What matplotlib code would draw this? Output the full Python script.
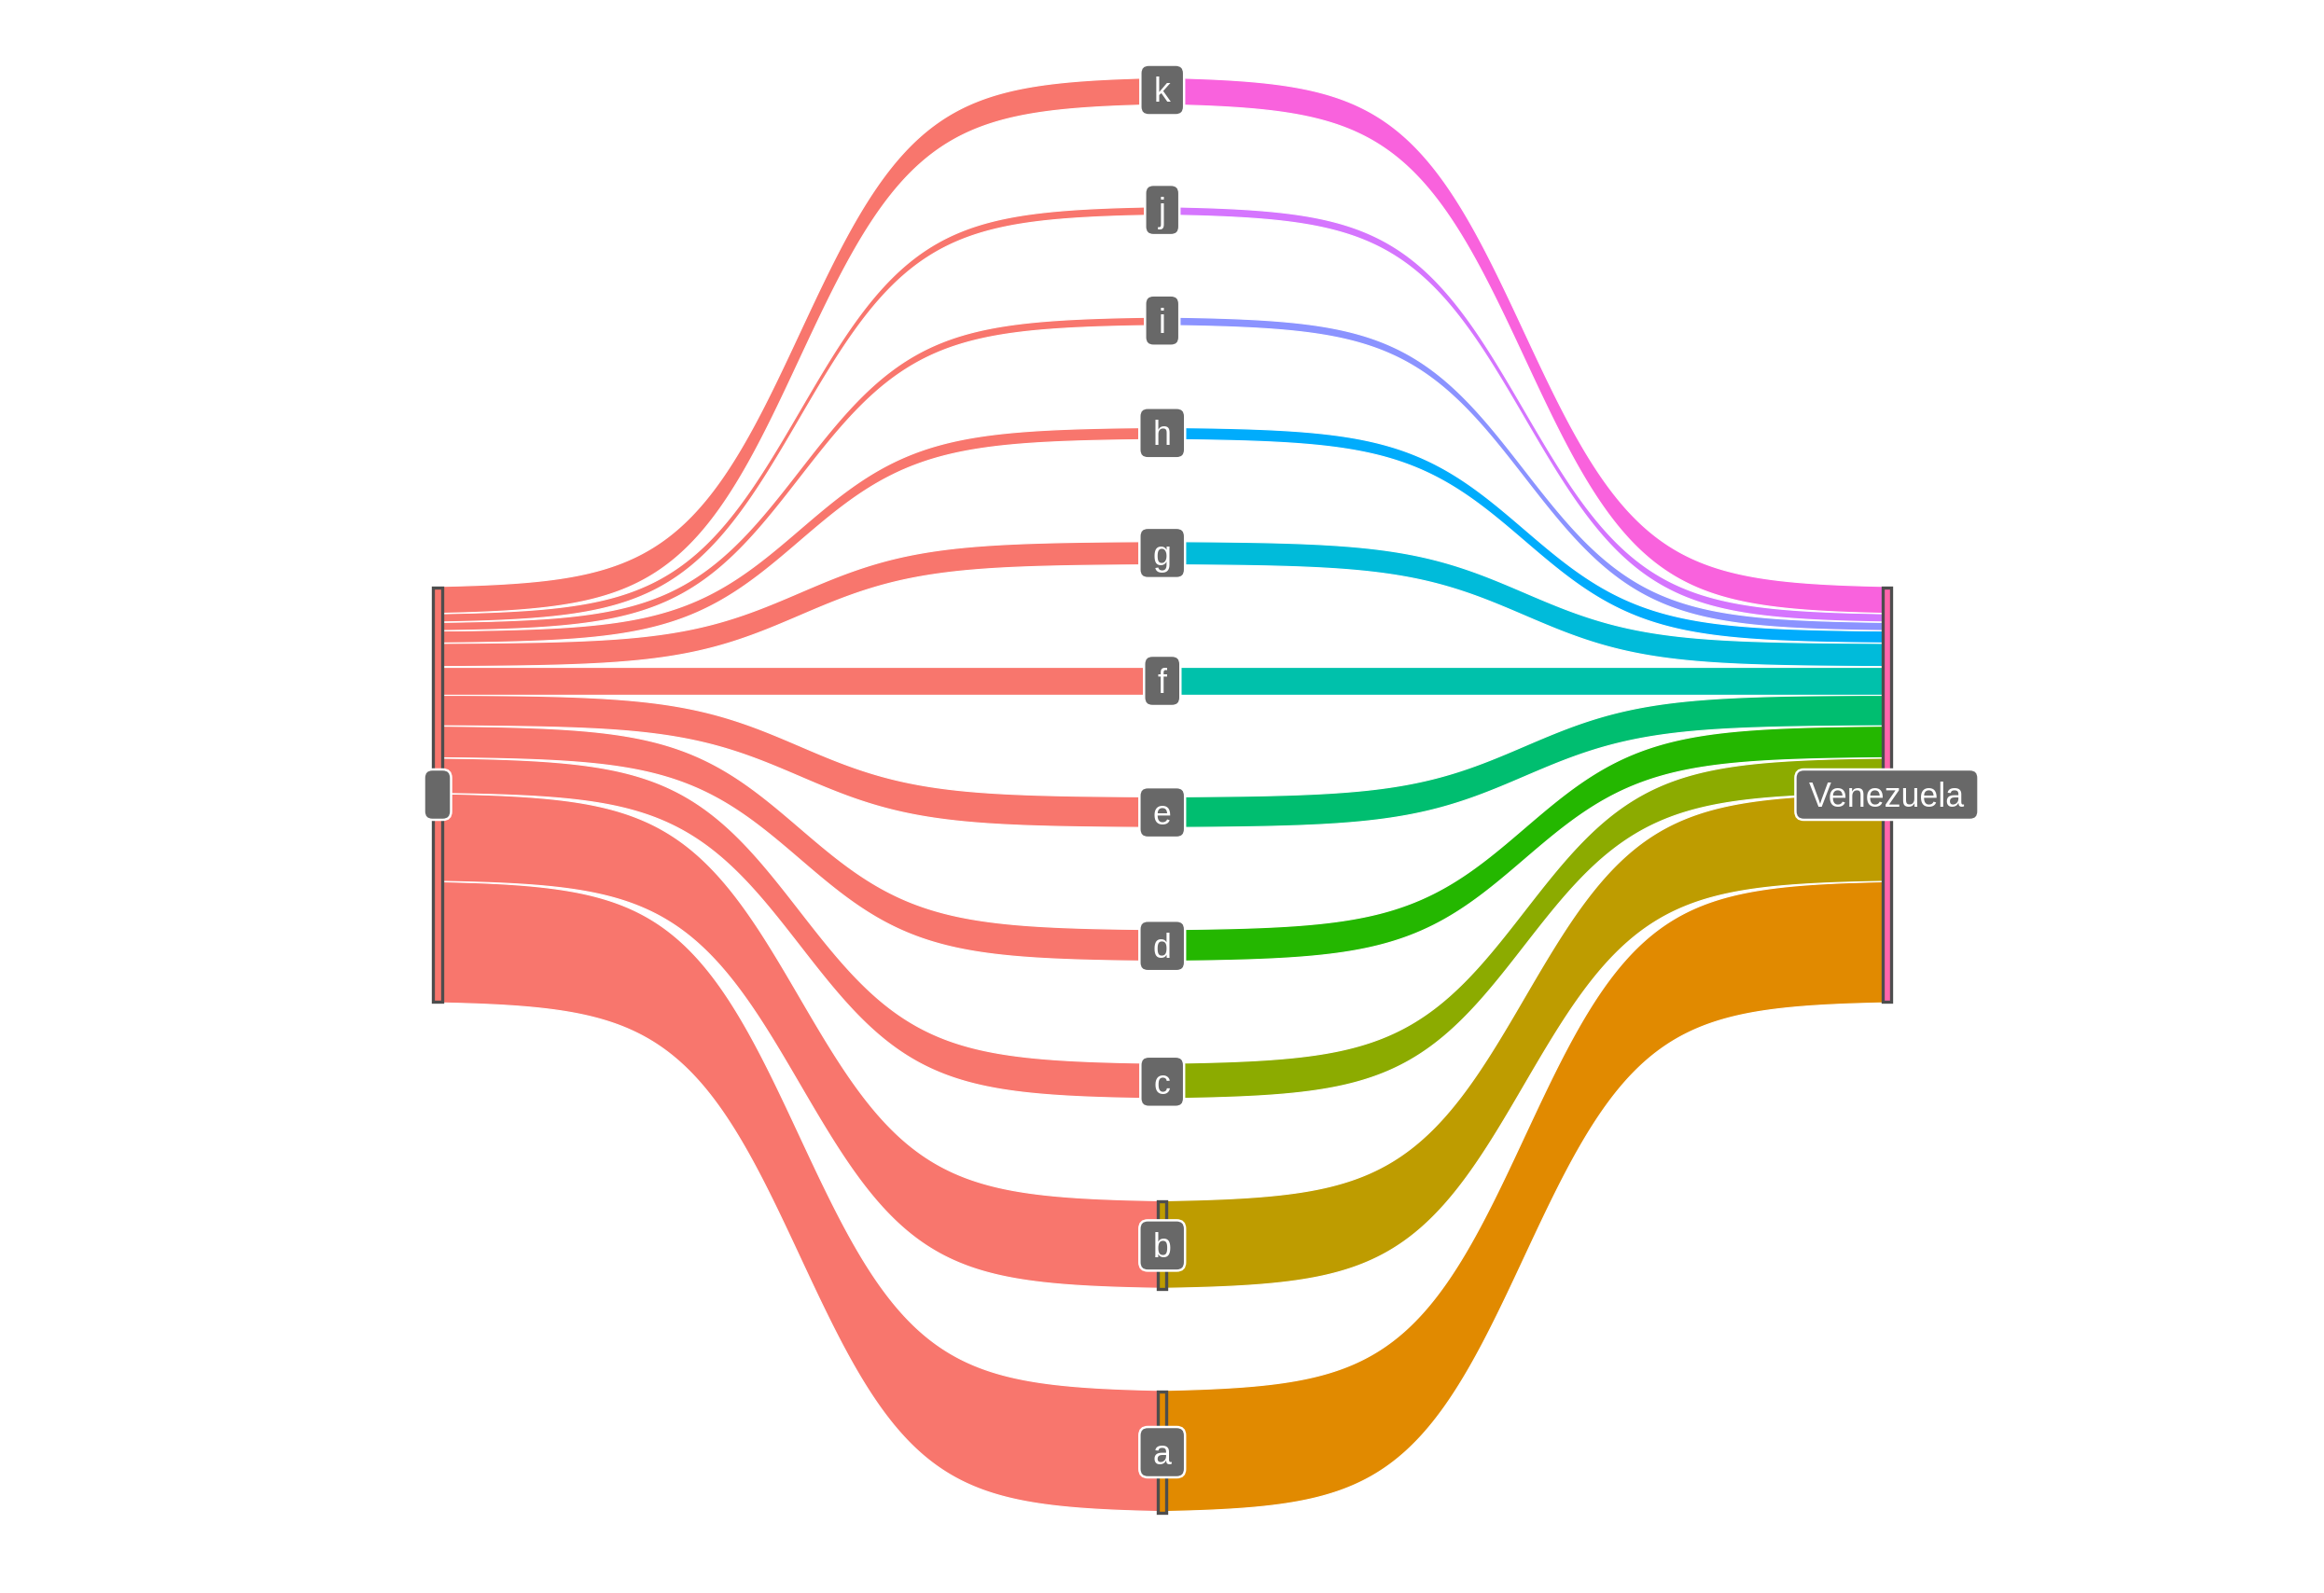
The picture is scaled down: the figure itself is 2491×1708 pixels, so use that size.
import matplotlib
matplotlib.use("Agg")
import matplotlib.pyplot as plt
import numpy as np
from matplotlib.patches import Polygon, Rectangle, FancyBboxPatch
from matplotlib.transforms import IdentityTransform

# ---------------- data ----------------
source_label = ""
target_label = "Venezuela"
categories = ["a", "b", "c", "d", "e", "f", "g", "h", "i", "j", "k"]
values = [130, 94, 38, 34, 33, 30, 25, 13, 9, 9, 29]

source_color = "#F8766D"
target_color = "#FF65AC"
category_colors = ["#E18A00", "#BE9C00", "#8CAB00", "#24B700", "#00BE70",
                   "#00C1AB", "#00BBDA", "#00ACFC", "#8B93FF", "#D575FE", "#F962DD"]

# ---------------- layout / style ----------------
W, H, DPI = 2491, 1708, 300
node_w = 0.0116
gap = 109.6
smooth = 6
x_px_first, x_px_step = 469.0, 776.75   # pixel x of stage 1, px per stage
y_px_center = 852.0
label_fill = "#686868"
node_edge = "#4D4D4D"
fs = 8.6
pad_x = 14.5
box_h = 54
font = ["Liberation Sans", "DejaVu Sans"]

fig = plt.figure(figsize=(W / DPI, H / DPI), dpi=DPI)
ax = fig.add_axes([0, 0, 1, 1])
ax.set_xlim(1 - x_px_first / x_px_step, 1 + (W - x_px_first) / x_px_step)
ax.set_ylim(-(H - y_px_center), y_px_center)
ax.axis("off")

vals = np.array(values, dtype=float)
T = vals.sum()
n = len(vals)

# stacked segments (a at bottom)
side_bot = -T / 2 + np.concatenate([[0], np.cumsum(vals)[:-1]])
side_top = side_bot + vals
M = T + gap * (n - 1)
mid_bot = -M / 2 + np.concatenate([[0], np.cumsum(vals + gap)[:-1]])
mid_top = mid_bot + vals

s = np.linspace(-smooth, smooth, 300)
f = np.exp(s) / (np.exp(s) + 1)


def flow(x0, x1, yb0, yt0, yb1, yt1, color):
    xs = x0 + (s + smooth) / (2 * smooth) * (x1 - x0)
    top = yt0 + f * (yt1 - yt0)
    bot = yb0 + f * (yb1 - yb0)
    pts = np.vstack([np.column_stack([xs, top]), np.column_stack([xs[::-1], bot[::-1]])])
    ax.add_patch(Polygon(pts, closed=True, facecolor=color, edgecolor="white",
                         linewidth=0.3, zorder=1))


for i in range(n):
    flow(1 + node_w / 2, 2 - node_w / 2, side_bot[i], side_top[i],
         mid_bot[i], mid_top[i], source_color)
    flow(2 + node_w / 2, 3 - node_w / 2, mid_bot[i], mid_top[i],
         side_bot[i], side_top[i], category_colors[i])


def node(x, y0, h, color):
    ax.add_patch(Rectangle((x - node_w / 2, y0), node_w, h, facecolor=color,
                           edgecolor=node_edge, linewidth=0.8, zorder=3))


node(1, side_bot[0], T, source_color)
node(3, side_bot[0], T, target_color)
for i in range(n):
    node(2, mid_bot[i], vals[i], category_colors[i])

# labels
labels = [(source_label, 1, 0.0)] + [(target_label, 3, 0.0)] + \
    [(categories[i], 2, (mid_bot[i] + mid_top[i]) / 2) for i in range(n)]

cap = 0.716 * fs / 72 * DPI
texts = []
for txt, x, y in labels:
    t = ax.text(x, y - cap / 2, txt, ha="center", va="baseline", color="white",
                fontsize=fs, family=font, zorder=6)
    texts.append((t, x, y))

fig.canvas.draw()
r = fig.canvas.get_renderer()
for t, x, y in texts:
    tw = t.get_window_extent(r).width if t.get_text() else 0.0
    cx, cy = ax.transData.transform((x, y))
    bw = tw + 2 * pad_x
    box = FancyBboxPatch((cx - bw / 2, cy - box_h / 2), bw, box_h,
                         boxstyle="round,pad=0,rounding_size=9",
                         facecolor=label_fill, edgecolor="white", linewidth=0.6,
                         transform=IdentityTransform(), zorder=5)
    ax.add_artist(box)

fig.savefig("out.png", dpi=DPI)
